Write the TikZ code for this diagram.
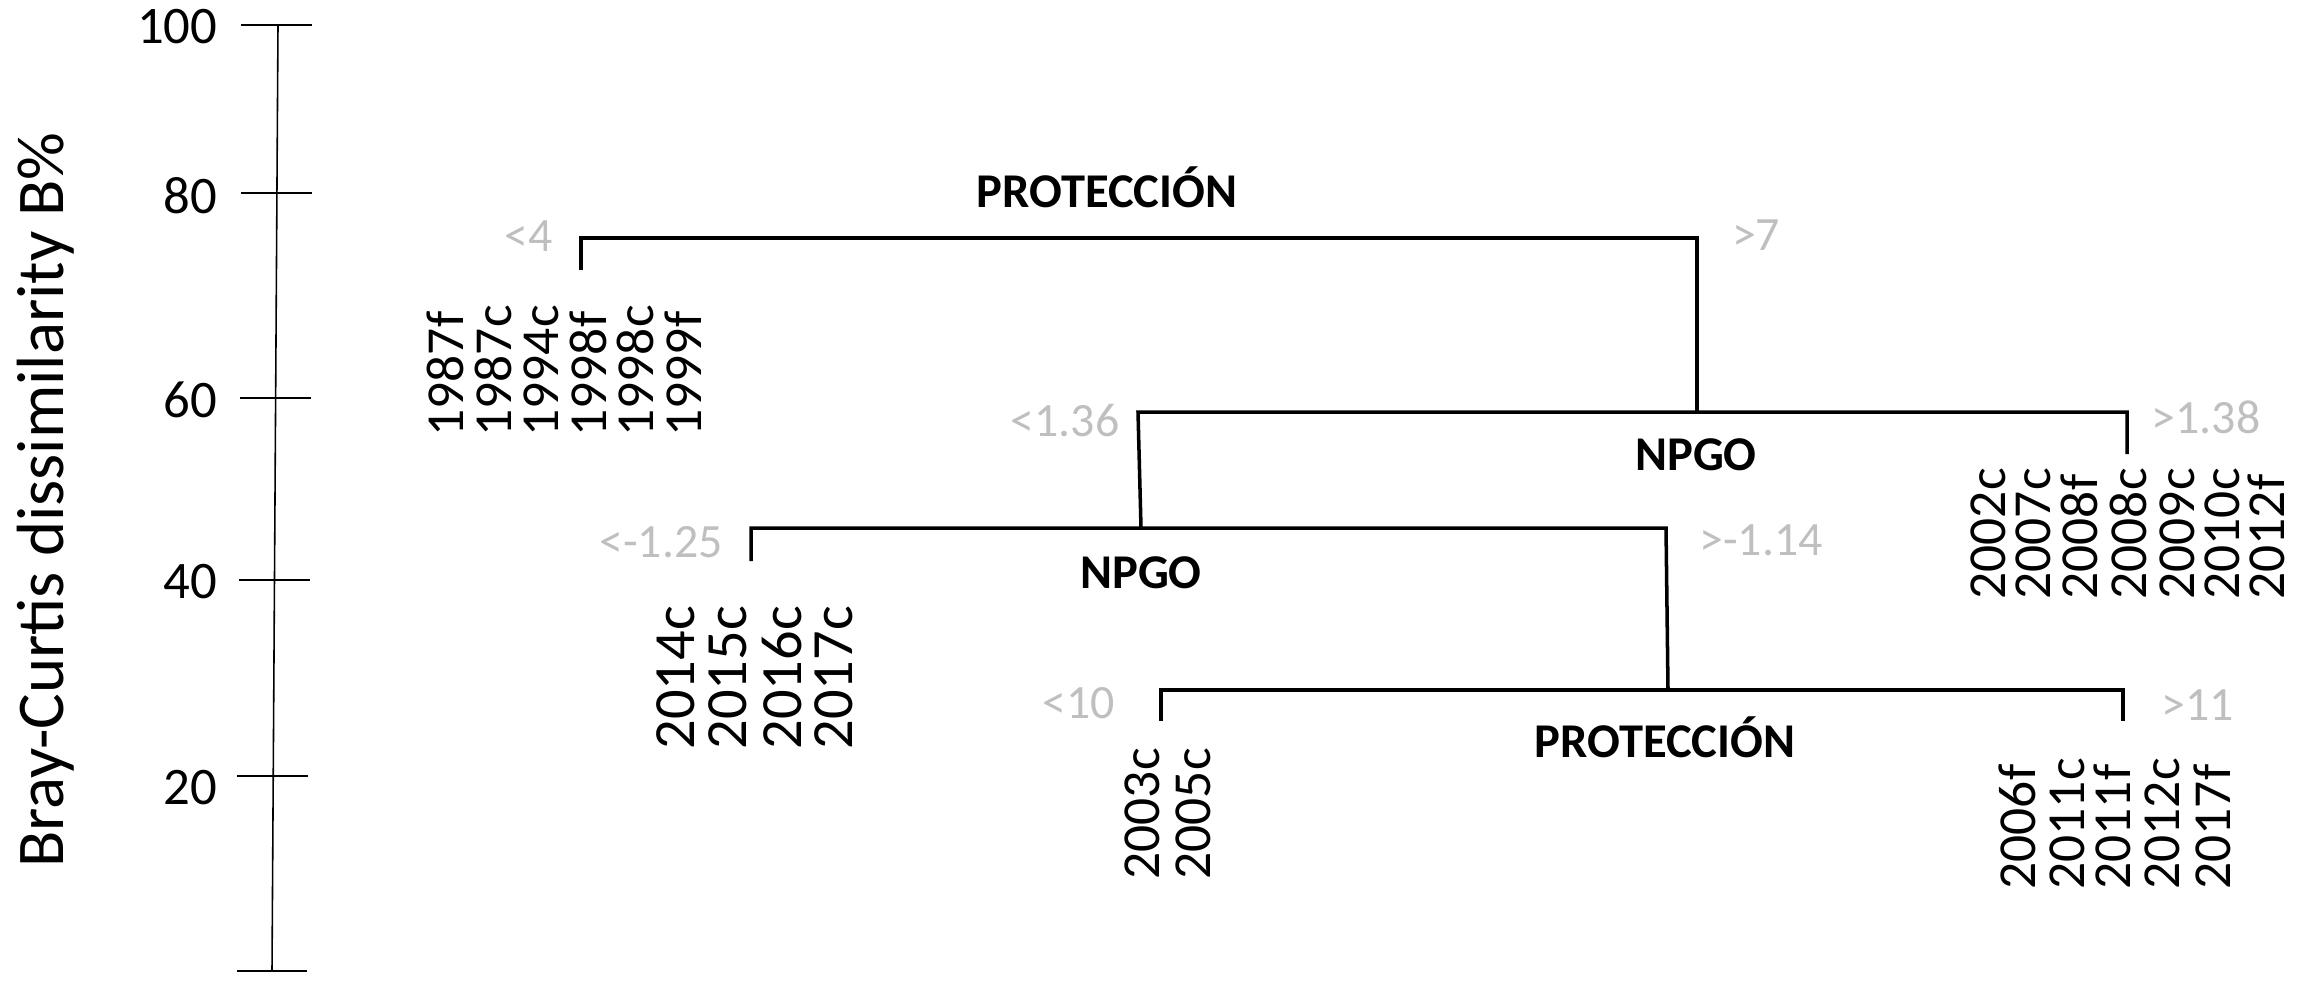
\documentclass[tikz,border=0pt]{standalone}
\usepackage{fontspec}
\setmainfont{Carlito}
\usepackage{tikz}
\definecolor{thrgray}{HTML}{BFBFBF}

\begin{document}
\begin{tikzpicture}[x=0.01cm, y=-0.01cm,
  branch/.style={line width=1pt},
  axisline/.style={line width=0.45pt},
  leaf/.style={rotate=90, anchor=west, inner sep=0pt, font=\fontsize{15.2}{18}\selectfont},
  bigleaf/.style={leaf, font=\fontsize{16.6}{19}\selectfont},
  thr/.style={text=thrgray, anchor=base, inner sep=0pt, font=\fontsize{13.6}{16}\selectfont},
  split/.style={anchor=base, inner sep=0pt, font=\fontsize{13.8}{16}\selectfont\bfseries},
  ticklab/.style={anchor=east, inner sep=0pt, font=\fontsize{15}{18}\selectfont}]
\useasboundingbox (0,0) rectangle (2310,981);
\draw[axisline] (278,25) -- (272,971);
\draw[axisline] (241,25) -- (312,25);
\draw[axisline] (241,193) -- (312,193);
\draw[axisline] (240,398) -- (311,398);
\draw[axisline] (239,580) -- (310,580);
\draw[axisline] (237,776) -- (308,776);
\draw[axisline] (237,971) -- (307,971);
\node[ticklab] (t100) at (218,27) {100};
\node[ticklab] (t80) at (218,196) {80};
\node[ticklab] (t60) at (218,400) {60};
\node[ticklab] (t40) at (218,582) {40};
\node[ticklab] (t20) at (218,788) {20};
\node[rotate=90, anchor=base, inner sep=0pt, font=\fontsize{19}{22}\selectfont] (ylab) at (63,500) {Bray-Curtis dissimilarity B\%};

\coordinate (protAL) at (581,270);
\coordinate (protALt) at (581,238);
\coordinate (protARt) at (1697,238);
\coordinate (npgoAm) at (1697,413);
\coordinate (npgoALt) at (1138,412);
\coordinate (npgoARt) at (2127,412);
\coordinate (npgoAR) at (2127,454);
\coordinate (npgoBm) at (1141,528);
\coordinate (npgoBLt) at (751,528);
\coordinate (npgoBL) at (751,561);
\coordinate (npgoBRt) at (1666,528);
\coordinate (protBm) at (1668,690);
\coordinate (protBLt) at (1161,690);
\coordinate (protBL) at (1161,721);
\coordinate (protBRt) at (2123,690);
\coordinate (protBR) at (2123,721);
\draw[branch] (protAL) -- (protALt) -- (protARt) -- (npgoAm);
\draw[branch] (npgoBm) -- (npgoALt) -- (npgoARt) -- (npgoAR);
\draw[branch] (npgoBL) -- (npgoBLt) -- (npgoBRt) -- (protBm);
\draw[branch] (protBL) -- (protBLt) -- (protBRt) -- (protBR);

\node[split] (protA) at (1107,207) {PROTECCIÓN};
\node[split] (npgoA) at (1696,470) {NPGO};
\node[split] (npgoB) at (1141,588) {NPGO};
\node[split] (protB) at (1665,757) {PROTECCIÓN};

\node[thr] (thrA1) at (529,251) {<4};
\node[thr] (thrA2) at (1756,250) {>7};
\node[thr] (thrB1) at (1065,436) {<1.36};
\node[thr] (thrB2) at (2206,433) {>1.38};
\node[thr] (thrC1) at (661,557) {<-1.25};
\node[thr] (thrC2) at (1761,555) {>-1.14};
\node[thr] (thrD1) at (1079,718) {<10};
\node[thr] (thrD2) at (2198,720) {>11};

\node[leaf] (y87f) at (445,437) {1987f};
\node[leaf] (y87c) at (493,437) {1987c};
\node[leaf] (y94c) at (541,437) {1994c};
\node[leaf] (y98f) at (588,437) {1998f};
\node[leaf] (y98c) at (635,437) {1998c};
\node[leaf] (y99f) at (683,437) {1999f};

\node[bigleaf] (y14c) at (676,750) {2014c};
\node[bigleaf] (y15c) at (728,750) {2015c};
\node[bigleaf] (y16c) at (782,750) {2016c};
\node[bigleaf] (y17c) at (834,750) {2017c};

\node[leaf] (y02c) at (1988,600) {2002c};
\node[leaf] (y07c) at (2033,600) {2007c};
\node[leaf] (y08f) at (2079,600) {2008f};
\node[leaf] (y08c) at (2128,600) {2008c};
\node[leaf] (y09c) at (2177,600) {2009c};
\node[leaf] (y10c) at (2222,600) {2010c};
\node[leaf] (y12f) at (2266,600) {2012f};

\node[leaf] (y03c) at (1142,880) {2003c};
\node[leaf] (y05c) at (1193,880) {2005c};

\node[leaf] (y06f) at (2017,890) {2006f};
\node[leaf] (y11c) at (2067,890) {2011c};
\node[leaf] (y11f) at (2112,890) {2011f};
\node[leaf] (y12c) at (2162,890) {2012c};
\node[leaf] (y17f) at (2212,890) {2017f};
\end{tikzpicture}
\end{document}
